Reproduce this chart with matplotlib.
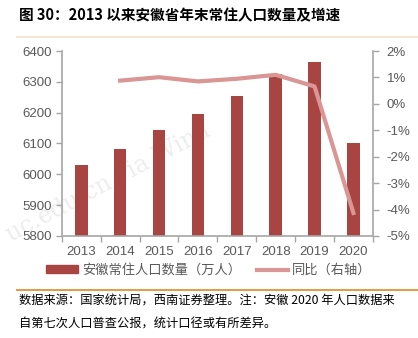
import matplotlib
matplotlib.use('Agg')
import matplotlib.pyplot as plt
from matplotlib.lines import Line2D
from matplotlib.patches import Patch

plt.rcParams['font.family'] = ['Liberation Sans', 'Noto Sans CJK SC', 'DejaVu Sans']

years = ['2013', '2014', '2015', '2016', '2017', '2018', '2019', '2020']
population = [6030, 6083, 6144, 6196, 6255, 6324, 6366, 6103]
growth = [None, 0.88, 1.01, 0.85, 0.95, 1.10, 0.66, -4.13]

bar_color = '#A84442'
line_color = '#D99694'
text_gray = '#595959'
spine_gray = '#A6A6A6'

fig = plt.figure(figsize=(4.18, 3.38), dpi=100)

# watermark, behind the chart
fig.text(0.005, 0.27, 'uc.edu.cn via Wind', rotation=28, color='#EDEDED',
         fontsize=17, family='DejaVu Serif', ha='left', va='bottom', zorder=-5)

ax = fig.add_axes([0.148, 0.302, 0.744, 0.547])
ax.patch.set_visible(False)

x = list(range(len(years)))
ax.bar(x, population, width=0.32, color=bar_color, zorder=2)
ax.set_ylim(5800, 6400)
ax.set_xlim(-0.5, len(years) - 0.5)
ax.set_yticks(range(5800, 6401, 100))
ax.set_xticks(x)
ax.set_xticklabels(years)
ax.set_xticks([i + 0.5 for i in range(-1, len(years))], minor=True)
ax.tick_params(axis='x', which='major', length=0, pad=7, labelsize=9.5, labelcolor=text_gray)
ax.tick_params(axis='x', which='minor', length=4, color=spine_gray, width=1)
ax.tick_params(axis='y', length=4, color=spine_gray, width=1, labelsize=9.5, labelcolor=text_gray, pad=3)
for s in ['top', 'right']:
    ax.spines[s].set_visible(False)
for s in ['left', 'bottom']:
    ax.spines[s].set_color(spine_gray)
    ax.spines[s].set_linewidth(1.2)

ax2 = ax.twinx()
ax2.patch.set_visible(False)
gx = [i for i, g in enumerate(growth) if g is not None]
gy = [g for g in growth if g is not None]
ax2.plot(gx, gy, color=line_color, linewidth=3, zorder=3)
ax2.set_ylim(-5, 2)
ax2.set_yticks(range(-5, 3))
ax2.set_yticklabels([f'{v}%' for v in range(-5, 3)])
ax2.tick_params(axis='y', length=4, color=spine_gray, width=1, labelsize=9.5, labelcolor=text_gray, pad=6)
for s in ['top', 'left', 'bottom']:
    ax2.spines[s].set_visible(False)
ax2.spines['right'].set_color(spine_gray)
ax2.spines['right'].set_linewidth(1.2)

# title
fig.text(0.045, 0.955, '图 30：2013 以来安徽省年末常住人口数量及增速',
         fontsize=10.5, fontweight='bold', family=['Noto Sans CJK SC'], ha='left', va='center')
fig.add_artist(Line2D([0.04, 1.0], [0.89, 0.89], color='#F5E6D3', linewidth=1.5))

# legend
handles = [Patch(color=bar_color), Line2D([], [], color=line_color, linewidth=3)]
labels = ['安徽常住人口数量（万人）', '同比（右轴）']
fig.legend(handles, labels, loc='center', bbox_to_anchor=(0.5, 0.2), ncol=2, frameon=False,
           prop={'family': ['Noto Sans CJK SC'], 'size': 9.5}, labelcolor=text_gray,
           handlelength=2.4, handleheight=0.5, handletextpad=0.3, columnspacing=1.2)

fig.add_artist(Line2D([0.04, 1.0], [0.142, 0.142], color='#D9A050', linewidth=1.5))

note1 = '数据来源：国家统计局，西南证券整理。注：安徽 2020 年人口数据来'
note2 = '自第七次人口普查公报，统计口径或有所差异。'
fig.text(0.045, 0.108, note1, fontsize=8.8, family=['Noto Sans CJK SC'], ha='left', va='center')
fig.text(0.045, 0.042, note2, fontsize=8.8, family=['Noto Sans CJK SC'], ha='left', va='center')

fig.savefig('out.png', dpi=100)
